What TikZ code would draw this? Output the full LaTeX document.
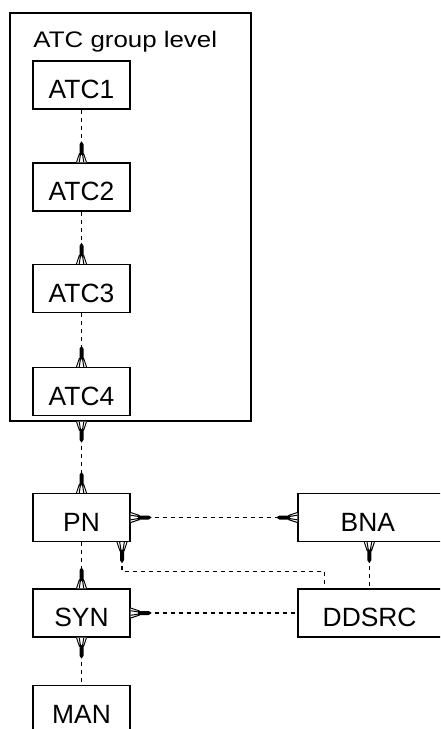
\documentclass[tikz,border=0pt]{standalone}
\usepackage{fontspec}
\setmainfont{Liberation Sans}
\newfontfamily\titlefont[FakeStretch=1.15]{Liberation Sans}
\usetikzlibrary{calc}
\tikzset{
  box/.style={draw, line width=1.3pt, minimum width=97pt, minimum height=48pt,
    inner sep=0pt, text height=27pt, text depth=0pt,
    font=\fontsize{26.4}{30}\selectfont},
  widebox/.style={box, minimum width=160pt, text width=160pt, align=left},
  conn/.style={line width=1.3pt, dash pattern=on 4pt off 4pt},
  fork/.pic={
    \fill[white] (0pt,-5pt) -- (9pt,-2pt) -- (9pt,2pt) -- (0pt,5pt) -- cycle;
    \draw[line width=1pt] (0pt,-5pt) -- (9pt,-2pt) (0pt,5pt) -- (9pt,2pt)
      (0pt,-2.3pt) -- (8pt,-1pt) (0pt,2.3pt) -- (8pt,1pt);
    \fill[black] (7.5pt,-2pt) -- (18pt,-2pt) -- (21pt,0pt) -- (18pt,2pt) -- (7.5pt,2pt) -- cycle;
  }
}
\begin{document}
\begin{tikzpicture}[x=1pt,y=-1pt]
\useasboundingbox (0,0) rectangle (440,729);
\clip (0,0) rectangle (440,729);

% group box
\node[draw, line width=1.3pt, minimum width=241pt, minimum height=408pt, inner sep=0pt] (grp) at (130.5,217) {};
\node[anchor=base west, inner sep=0pt, font=\titlefont\fontsize{22.5}{26}\selectfont] (title) at (33.3,47.3) {ATC group level};

% boxes
\node[box] (A1) at (81.5,85) {ATC1};
\node[box] (A2) at (81.5,187) {ATC2};
\node[box] (A3) at (81.5,288.5) {ATC3};
\node[box] (A4) at (81.5,391.5) {ATC4};
\node[box] (PN) at (81.5,517.5) {PN};
\node[box] (SYN) at (81.5,613) {SYN};
\node[box] (MAN) at (81.5,709.5) {MAN};
\node[widebox] (BNA) at (378,517.5) {\hspace*{42.7pt}BNA};
\node[widebox] (DD) at (378,613) {\hspace*{24.7pt}DDSRC};

% helper coordinates
\coordinate (pnb) at ([xshift=40.5pt]PN.south);
\coordinate (ddt) at ([xshift=27pt]DD.north west);
\coordinate (bnb) at ([xshift=72pt]BNA.south west);

% connectors
\draw[conn] (A1.south) -- (A2.north);
\draw[conn] (A2.south) -- (A3.north);
\draw[conn] (A3.south) -- (A4.north);
\draw[conn] (grp.south -| A4.south) -- (PN.north);
\draw[conn] (PN.east) -- (BNA.west);
\draw[conn] (pnb) -- ++(0,29) -| (ddt);
\draw[conn] (PN.south) -- (SYN.north);
\draw[conn] (bnb) -- (bnb |- DD.north);
\draw[conn] (SYN.east) -- (SYN.east -| DD.west);
\draw[conn] (SYN.south) -- (MAN.north);

% arrow ends
\pic[rotate=90] at (A2.north) {fork};
\pic[rotate=90] at (A3.north) {fork};
\pic[rotate=90] at (A4.north) {fork};
\pic[rotate=-90] at (grp.south -| A4.south) {fork};
\pic[rotate=90] at (PN.north) {fork};
\pic[rotate=0] at (PN.east) {fork};
\pic[rotate=180] at (BNA.west) {fork};
\pic[rotate=-90] at (pnb) {fork};
\pic[rotate=90] at (SYN.north) {fork};
\pic[rotate=-90] at (bnb) {fork};
\pic[rotate=0] at (SYN.east) {fork};
\pic[rotate=-90] at (SYN.south) {fork};
\end{tikzpicture}
\end{document}
